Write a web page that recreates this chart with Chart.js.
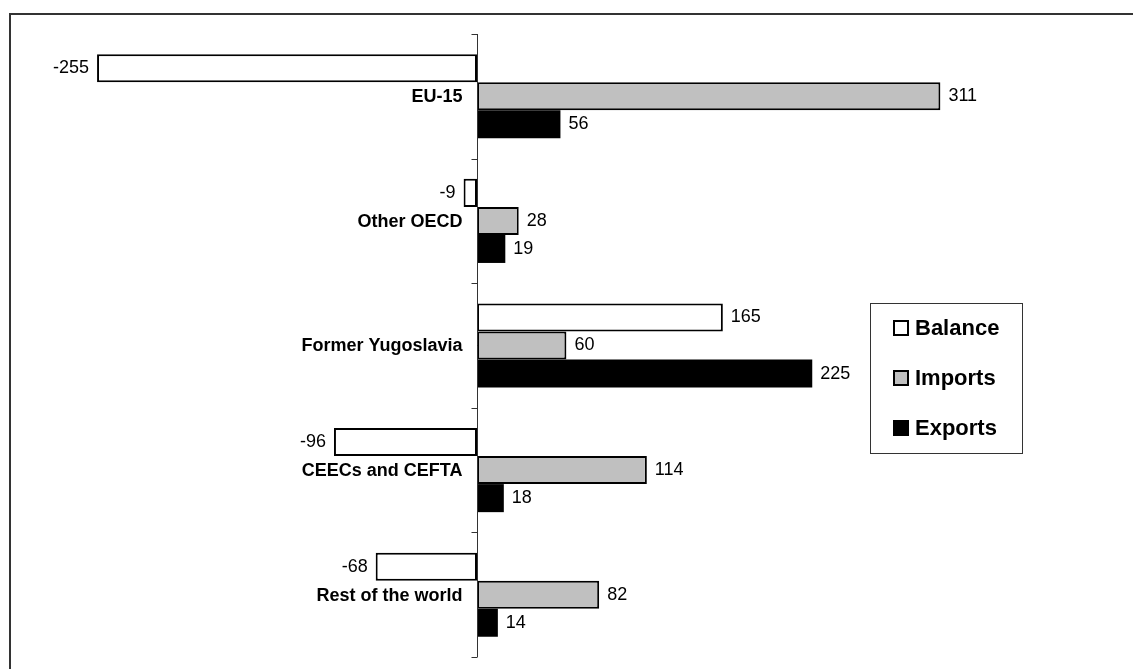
<!DOCTYPE html>
<html>
<head>
<meta charset="utf-8">
<script src="https://cdn.jsdelivr.net/npm/chart.js@4.4.0/dist/chart.umd.min.js"></script>
<style>
  html, body { margin: 0; padding: 0; background: #fff; }
  canvas { display: block; }
</style>
</head>
<body>
<canvas id="tradeChart" width="1133" height="669"></canvas>
<script>
// Data
const regions = ["EU-15", "Other OECD", "Former Yugoslavia", "CEECs and CEFTA", "Rest of the world"];
const seriesNames = ["Balance", "Imports", "Exports"];
const balance = [-255, -9, 165, -96, -68];
const imports = [311, 28, 60, 114, 82];
const exports = [56, 19, 225, 18, 14];

const FONT = "'Liberation Sans', Arial, sans-serif";

// Frame lines (top and left) round the chart
const framePlugin = {
  id: "frame",
  beforeDraw(chart) {
    const ctx = chart.ctx;
    ctx.save();
    ctx.fillStyle = "#fff";
    ctx.fillRect(0, 0, chart.width, chart.height);
    ctx.strokeStyle = "#333";
    ctx.lineWidth = 2;
    ctx.beginPath();
    ctx.moveTo(10, chart.height);
    ctx.lineTo(10, 14);
    ctx.lineTo(chart.width, 14);
    ctx.stroke();
    ctx.restore();
  }
};

// Zero axis with tick marks and the category names next to it
const axisPlugin = {
  id: "zeroAxis",
  afterDatasetsDraw(chart) {
    const ctx = chart.ctx;
    const xScale = chart.scales.x;
    const yScale = chart.scales.y;
    const x0 = Math.round(xScale.getPixelForValue(0)) + 0.5;
    const band = (yScale.bottom - yScale.top) / regions.length;

    ctx.save();
    ctx.strokeStyle = "#333";
    ctx.lineWidth = 1;
    ctx.beginPath();
    ctx.moveTo(x0, yScale.top);
    ctx.lineTo(x0, yScale.bottom);
    for (let k = 0; k <= regions.length; k++) {
      const ty = Math.round(yScale.top + k * band) + 0.5;
      ctx.moveTo(x0 - 6, ty);
      ctx.lineTo(x0, ty);
    }
    ctx.stroke();

    ctx.fillStyle = "#000";
    ctx.font = "bold 18px " + FONT;
    ctx.textAlign = "right";
    ctx.textBaseline = "middle";
    regions.forEach((name, i) => {
      ctx.fillText(name, x0 - 15, yScale.getPixelForValue(i) + 1);
    });
    ctx.restore();
  }
};

// Value labels at the end of every bar
const valueLabelPlugin = {
  id: "valueLabels",
  afterDatasetsDraw(chart) {
    const ctx = chart.ctx;
    ctx.save();
    ctx.fillStyle = "#000";
    ctx.font = "18px " + FONT;
    ctx.textBaseline = "middle";
    chart.data.datasets.forEach((ds, di) => {
      const meta = chart.getDatasetMeta(di);
      meta.data.forEach((bar, i) => {
        const v = ds.data[i];
        if (v < 0) {
          ctx.textAlign = "right";
          ctx.fillText(String(v), bar.x - 8, bar.y);
        } else {
          ctx.textAlign = "left";
          ctx.fillText(String(v), bar.x + 8, bar.y);
        }
      });
    });
    ctx.restore();
  }
};

// Boxed legend inside the plot area
const legendPlugin = {
  id: "boxLegend",
  afterDraw(chart) {
    const ctx = chart.ctx;
    const left = 870, top = 303, w = 152, h = 150;
    ctx.save();
    ctx.fillStyle = "#fff";
    ctx.fillRect(left, top, w, h);
    ctx.strokeStyle = "#333";
    ctx.lineWidth = 1;
    ctx.strokeRect(left + 0.5, top + 0.5, w, h);

    ctx.font = "bold 22px " + FONT;
    ctx.textAlign = "left";
    ctx.textBaseline = "middle";
    chart.data.datasets.forEach((ds, i) => {
      const cy = top + 25 + i * 50;
      const sx = left + 23, size = 16;
      ctx.fillStyle = ds.backgroundColor;
      ctx.fillRect(sx, cy - size / 2, size, size);
      ctx.strokeStyle = "#000";
      ctx.lineWidth = 2;
      ctx.strokeRect(sx + 1, cy - size / 2 + 1, size - 2, size - 2);
      ctx.fillStyle = "#000";
      ctx.fillText(ds.label, sx + size + 6, cy + 1);
    });
    ctx.restore();
  }
};

const data = {
  labels: regions,
  datasets: [
    {
      label: seriesNames[0],
      data: balance,
      backgroundColor: "#ffffff",
      borderColor: "#000000",
      borderWidth: 2,
      borderSkipped: false
    },
    {
      label: seriesNames[1],
      data: imports,
      backgroundColor: "#c0c0c0",
      borderColor: "#000000",
      borderWidth: 2,
      borderSkipped: false
    },
    {
      label: seriesNames[2],
      data: exports,
      backgroundColor: "#000000",
      borderColor: "#000000",
      borderWidth: 0
    }
  ]
};

const config = {
  type: "bar",
  data: data,
  options: {
    indexAxis: "y",
    responsive: false,
    animation: false,
    layout: {
      padding: { left: 30, right: 60, top: 34, bottom: 12 }
    },
    datasets: {
      bar: {
        categoryPercentage: 0.675,
        barPercentage: 1.0
      }
    },
    scales: {
      x: {
        display: false,
        min: -300,
        max: 400
      },
      y: {
        display: false
      }
    },
    plugins: {
      legend: { display: false },
      tooltip: { enabled: false },
      title: { display: false }
    }
  },
  plugins: [framePlugin, axisPlugin, valueLabelPlugin, legendPlugin]
};

const ctx = document.getElementById("tradeChart").getContext("2d");
new Chart(ctx, config);
</script>
</body>
</html>
